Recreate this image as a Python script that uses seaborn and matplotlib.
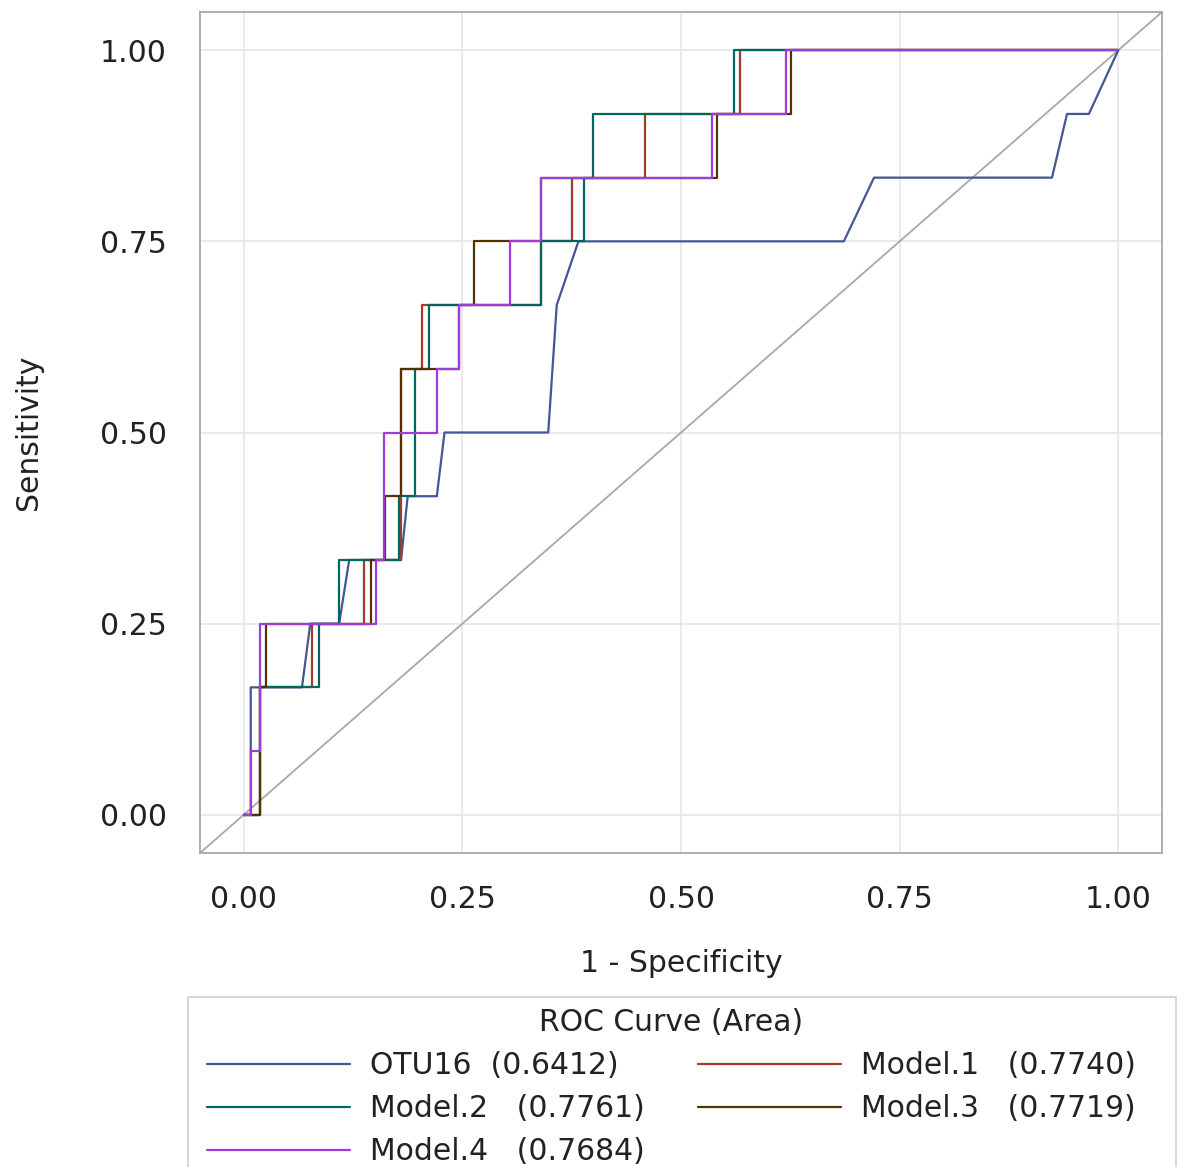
import numpy as np
import pandas as pd
import matplotlib
matplotlib.use("Agg")
import matplotlib.pyplot as plt
from matplotlib.patches import Rectangle
import seaborn as sns

# --- ROC curve vertices (1 - specificity, sensitivity) ---
otu16_fpr = [0.0, 0.0080, 0.0080, 0.0666, 0.0761, 0.1091, 0.1206, 0.1799, 0.1875,
             0.2208, 0.2296, 0.3482, 0.3579, 0.3827, 0.6862, 0.7207, 0.9242,
             0.9414, 0.9664, 1.0]
otu16_tpr = [0, 0, 2, 2, 3, 3, 4, 4, 5, 5, 6, 6, 8, 9, 9, 10, 10, 11, 11, 12]

model1_fpr = [0.0, 0.0187, 0.0187, 0.0781, 0.0781, 0.1370, 0.1370, 0.1799, 0.1799,
              0.2040, 0.2040, 0.3395, 0.3395, 0.3751, 0.3751, 0.4592, 0.4592,
              0.5672, 0.5672, 1.0]
model1_tpr = [0, 0, 2, 2, 3, 3, 4, 4, 7, 7, 8, 8, 9, 9, 10, 10, 11, 11, 12, 12]

model2_fpr = [0.0, 0.0187, 0.0187, 0.0858, 0.0858, 0.1091, 0.1091, 0.1780, 0.1780,
              0.1963, 0.1963, 0.2116, 0.2116, 0.3395, 0.3395, 0.3896, 0.3896,
              0.3999, 0.3999, 0.5606, 0.5606, 1.0]
model2_tpr = [0, 0, 2, 2, 3, 3, 4, 4, 5, 5, 7, 7, 8, 8, 9, 9, 10, 10, 11, 11, 12, 12]

model3_fpr = [0.0, 0.0187, 0.0187, 0.0256, 0.0256, 0.1455, 0.1455, 0.1619, 0.1619,
              0.1799, 0.1799, 0.2460, 0.2460, 0.2633, 0.2633, 0.3395, 0.3395,
              0.5416, 0.5416, 0.6257, 0.6257, 1.0]
model3_tpr = [0, 0, 2, 2, 3, 3, 4, 4, 5, 5, 7, 7, 8, 8, 9, 9, 10, 10, 11, 11, 12, 12]

model4_fpr = [0.0, 0.0080, 0.0080, 0.0187, 0.0187, 0.1512, 0.1512, 0.1607, 0.1607,
              0.2208, 0.2208, 0.2460, 0.2460, 0.3042, 0.3042, 0.3395, 0.3395,
              0.5358, 0.5358, 0.6200, 0.6200, 1.0]
model4_tpr = [0, 0, 1, 1, 3, 3, 4, 4, 6, 6, 7, 7, 8, 8, 9, 9, 10, 10, 11, 11, 12, 12]

n_pos = 12  # sensitivity moves in steps of 1/12

curve_labels = ["OTU16  (0.6412)", "Model.1   (0.7740)", "Model.2   (0.7761)",
                "Model.3   (0.7719)", "Model.4   (0.7684)"]
curve_colors = ["#445694", "#A23A2E", "#01665E", "#543005", "#9D3CDB"]

ticks = [0.0, 0.25, 0.5, 0.75, 1.0]
tick_labels = ["0.00", "0.25", "0.50", "0.75", "1.00"]

# build a long table for seaborn
all_fpr = [otu16_fpr, model1_fpr, model2_fpr, model3_fpr, model4_fpr]
all_tpr = [otu16_tpr, model1_tpr, model2_tpr, model3_tpr, model4_tpr]
frames = []
for lab, fpr, tpr in zip(curve_labels, all_fpr, all_tpr):
    frames.append(pd.DataFrame({
        "fpr": fpr,
        "tpr": np.array(tpr) / n_pos,
        "curve": lab,
    }))
roc_df = pd.concat(frames, ignore_index=True)

# --- Plot ---
sns.set_style("whitegrid")
plt.rcParams["font.family"] = ["DejaVu Sans"]
FS = 21.5
TXT = "#222222"

W, H = 1179, 1167
fig = plt.figure(figsize=(W / 100, H / 100), dpi=100)
ax = fig.add_axes([200 / W, 1 - 853 / H, (1162 - 200) / W, (853 - 12) / H])

# chance diagonal
ax.plot([-0.05, 1.05], [-0.05, 1.05], color="#A8A8A8", lw=1.3, zorder=1)

sns.lineplot(
    data=roc_df, x="fpr", y="tpr", hue="curve",
    hue_order=curve_labels, palette=curve_colors,
    sort=False, estimator=None, lw=1.6, ax=ax, legend=False,
)

ax.set_xlim(-0.05, 1.05)
ax.set_ylim(-0.05, 1.05)
ax.set_xticks(ticks)
ax.set_yticks(ticks)
ax.set_xticklabels(tick_labels)
ax.set_yticklabels(tick_labels)
ax.grid(True, color="#E6E6E6", lw=1.2)
for sp in ax.spines.values():
    sp.set_color("#A8A8A8")
    sp.set_linewidth(1.3)
ax.tick_params(axis="both", which="major", direction="out", length=12,
               width=1.2, color="#A8A8A8", labelsize=FS, labelcolor=TXT)
ax.tick_params(axis="y", pad=12)
ax.tick_params(axis="x", pad=11)
ax.set_xlabel("1 - Specificity", fontsize=FS, color=TXT, labelpad=25)
ax.set_ylabel("Sensitivity", fontsize=FS, color=TXT, labelpad=41)

# legend below, filled row by row; its frame runs off the bottom edge
handles = [plt.Line2D([], [], color=c, lw=1.6) for c in curve_colors]
order = [0, 2, 4, 1, 3]
leg = fig.legend(
    [handles[i] for i in order], [curve_labels[i] for i in order],
    loc="upper left", bbox_to_anchor=(207 / W, 1 - 1008 / H),
    ncol=2, title="ROC Curve (Area)",
    fontsize=FS, title_fontsize=FS, frameon=False,
    handlelength=143 / (FS * 100 / 72), handletextpad=0.66, columnspacing=1.8,
    labelspacing=0.47, borderpad=0, borderaxespad=0,
)
for t in leg.get_texts():
    t.set_color(TXT)
leg.get_title().set_color(TXT)

fig.add_artist(Rectangle((188 / W, -0.02), (1176 - 188) / W, 1 - 997 / H + 0.02,
                         transform=fig.transFigure, fill=False,
                         edgecolor="#D0D0D0", lw=1.2))

fig.savefig("out.png", dpi=100)
